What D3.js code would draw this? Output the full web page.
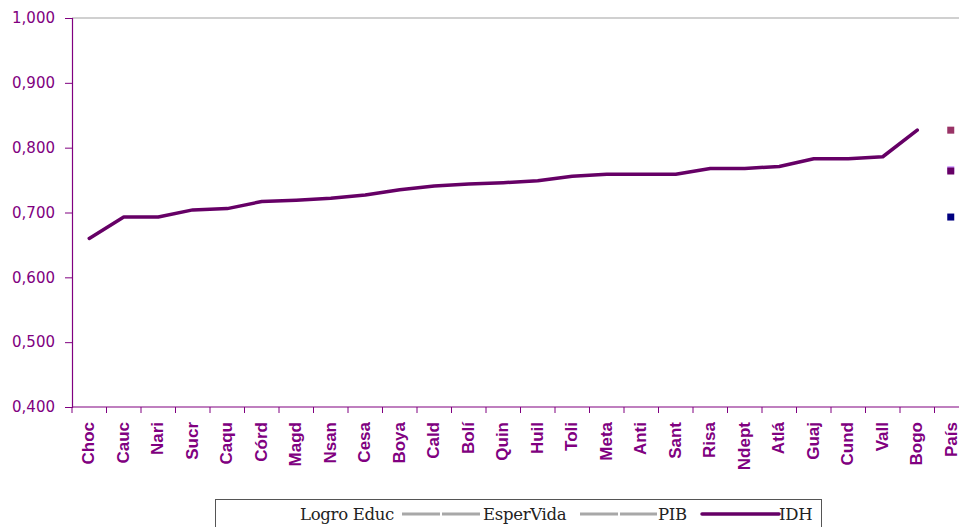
<!DOCTYPE html>
<html><head><meta charset="utf-8">
<script src="https://cdn.jsdelivr.net/npm/d3@7"></script>
<style>body{margin:0;background:#fff;}svg{display:block;}</style>
</head><body>
<svg id="c" width="959" height="527"></svg>
<script>
const categories = ["Choc","Cauc","Nari","Sucr","Caqu","Córd","Magd","Nsan","Cesa","Boya","Cald","Bolí","Quin","Huil","Toli","Meta","Anti","Sant","Risa","Ndept","Atlá","Guaj","Cund","Vall","Bogo","País"];
const idhValues = [0.660,0.693,0.693,0.704,0.706,0.717,0.719,0.722,0.727,0.735,0.741,0.744,0.746,0.749,0.756,0.759,0.759,0.759,0.768,0.768,0.771,0.783,0.783,0.786,0.827,null];
const paisSeries = ["Logro Educ","EsperVida","PIB","IDH"];
const paisValues = [0.827,0.766,0.693,0.764];
const paisColors = ["#993366","#cc99ff","#000080","#660066"];
const yTicks = [0.4,0.5,0.6,0.7,0.8,0.9,1.0];
const legendLabels = ["Logro Educ","EsperVida","PIB","IDH"];

(function(){
const svg = d3.select("#c");
const mLeft = 72, mTop = 18, mBottom = 407;
const bandW = 34.5;
const x = d3.scaleBand().domain(categories).range([mLeft, mLeft + bandW*categories.length]).padding(0);
const y = d3.scaleLinear().domain([0.4,1.0]).range([mBottom, mTop]);
const axisColor = "#800080";

svg.append("line").attr("x1",mLeft).attr("x2",959).attr("y1",y(1.0)).attr("y2",y(1.0))
  .attr("stroke","#c0c0c0").attr("stroke-width",1.5);

const ya = svg.append("g").attr("transform",`translate(${mLeft},0)`)
  .call(d3.axisLeft(y).tickValues(yTicks).tickSize(7).tickPadding(10)
    .tickFormat(d=>d3.format(".3f")(d).replace(".",",")));
ya.select(".domain").attr("stroke",axisColor).attr("stroke-width",1.2);
ya.selectAll(".tick line").attr("stroke",axisColor);
ya.selectAll(".tick text").attr("fill","#800080").attr("font-family","DejaVu Sans, Verdana, sans-serif")
  .attr("font-size",15);

const xa = svg.append("g").attr("transform",`translate(0,${mBottom})`)
  .call(d3.axisBottom(x).tickSize(0).tickSizeOuter(0));
xa.select(".domain").attr("stroke",axisColor).attr("stroke-width",1.2).attr("d",`M${mLeft},0H959`);
svg.append("g").selectAll("line").data(categories).join("line")
  .attr("x1",d=>x(d)).attr("x2",d=>x(d)).attr("y1",mBottom).attr("y2",mBottom+6)
  .attr("stroke",axisColor);
xa.selectAll(".tick text")
  .attr("transform","rotate(-90)")
  .attr("x",-15).attr("y",0).attr("dy","0.3em")
  .attr("text-anchor","end")
  .attr("fill","#800080").attr("font-weight","bold")
  .attr("font-family","Liberation Sans, Arial, sans-serif").attr("font-size",17);

const line = d3.line().defined(d=>d!=null)
  .x((d,i)=>x(categories[i])+x.bandwidth()/2).y(d=>y(d));
svg.append("path").datum(idhValues).attr("d",line).attr("fill","none")
  .attr("stroke","#660066").attr("stroke-width",3.5).attr("stroke-linejoin","round").attr("stroke-linecap","round");

const px = x("País") + x.bandwidth()/2 - 1;
svg.append("g").selectAll("rect").data(paisValues).join("rect")
  .attr("x",px-3.5).attr("y",d=>y(d)-3.5).attr("width",7).attr("height",7)
  .attr("fill",(d,i)=>paisColors[i]);

const lg = svg.append("g");
lg.append("rect").attr("x",215.5).attr("y",499.5).attr("width",606).attr("height",40)
  .attr("fill","#fff").attr("stroke","#555").attr("stroke-width",1);
const lf = "DejaVu Serif, Liberation Serif, serif";
const items = [
  {t:legendLabels[0], tx:300, line:null},
  {t:legendLabels[1], tx:483, line:[402,481,"#a8a8a8"]},
  {t:legendLabels[2], tx:658, line:[580,657,"#a8a8a8"]},
  {t:legendLabels[3], tx:779, line:[702,779,"#660066"]}
];
items.forEach(it=>{
  if(it.line){
    const main = it.line[2]==="#660066";
    lg.append("line").attr("x1",it.line[0]).attr("x2",it.line[1]).attr("y1",514).attr("y2",514)
      .attr("stroke",it.line[2]).attr("stroke-width",main?3.5:3)
      .attr("stroke-linecap",main?"round":"butt")
      .attr("stroke-dasharray",main?null:"38,2");
  }
  lg.append("text").attr("x",it.tx).attr("y",520).text(it.t)
    .attr("font-family",lf).attr("font-size",16.5).attr("fill","#222").attr("letter-spacing","-0.3px");
});
})();
</script>
</body></html>
